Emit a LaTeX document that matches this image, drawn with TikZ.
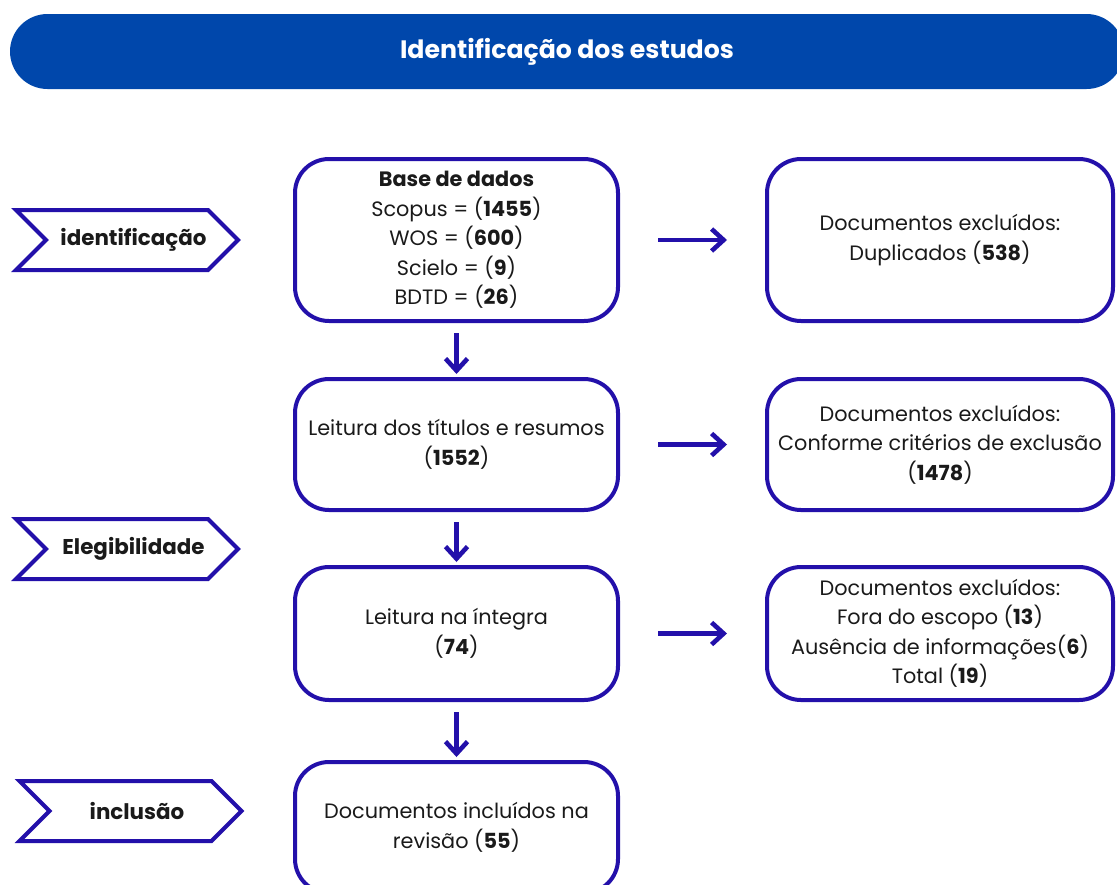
\documentclass[tikz,border=0pt]{standalone}
\usepackage{fontspec}
\setmainfont{Poppins}
\usetikzlibrary{shapes.symbols,arrows.meta,positioning}
\definecolor{headblue}{HTML}{0047AB}
\definecolor{flowblue}{HTML}{2310AA}
\definecolor{inkgray}{HTML}{1A1A1A}

\begin{document}
\begin{tikzpicture}[
    x=0.5pt, y=-0.5pt,
    every node/.style={font=\fontsize{10.4}{14.75}\selectfont, text=inkgray},
    % rounded boxes of the flow
    flowbox/.style={
        rectangle,
        draw=flowblue,
        line width=2pt,
        rounded corners=17pt,
        align=center,
        inner sep=2pt
    },
    % phase labels on the left
    phase/.style={
        signal,
        signal from=west,
        signal to=east,
        draw=flowblue,
        line width=2pt,
        inner xsep=0pt,
        minimum width=111pt,
        minimum height=30pt,
        execute at begin node=\hspace*{6.5pt},
        font=\fontsize{10.7}{12}\selectfont\bfseries
    },
    header/.style={
        rectangle,
        fill=headblue,
        rounded corners=18.75pt,
        minimum width=557pt,
        minimum height=37.5pt,
        text=white,
        font=\fontsize{12.6}{14}\selectfont\bfseries
    },
    flowarrow/.style={-{Straight Barb[length=6pt,width=11pt]}, draw=flowblue, line width=2.3pt}
]
\useasboundingbox (0,0) rectangle (1117,884);

% Title bar
\node[header] (head) at (567,51.5) {Identificação dos estudos};

% Phases
\node[phase] (ident) at (127,240) {identificação};
\node[phase] (eleg) at (127,549) {Elegibilidade};
\node[phase] (incl) at (130.5,811) {inclusão};

% Main column
\node[flowbox, minimum width=161.5pt, minimum height=81pt] (base) at (456.5,240) {%
    \textbf{Base de dados}\\
    Scopus = (\textbf{1455})\\
    WOS = (\textbf{600})\\
    Scielo = (\textbf{9})\\
    BDTD = (\textbf{26})};
\node[flowbox, minimum width=161.5pt, minimum height=65.5pt] (titles) at (456.5,444.5) {Leitura dos títulos e resumos\\(\textbf{1552})};
\node[flowbox, minimum width=161.5pt, minimum height=66.5pt] (full) at (456.5,633.5) {Leitura na íntegra\\(\textbf{74})};
\node[flowbox, minimum width=161.5pt, minimum height=65.5pt] (incbox) at (456.5,827.5) {Documentos incluídos na\\revisão (\textbf{55})};

% Exclusions
\node[flowbox, minimum width=173pt, minimum height=81pt, right=72.5pt of base] (dup) {Documentos excluídos:\\Duplicados (\textbf{538})};
\node[flowbox, minimum width=173pt, minimum height=65.5pt, right=72.5pt of titles] (crit) {Documentos excluídos:\\Conforme critérios de exclusão\\(\textbf{1478})};
\node[flowbox, minimum width=173pt, minimum height=66.5pt, right=72.5pt of full] (scope) {Documentos excluídos:\\Fora do escopo (\textbf{13})\\Ausência de informações(\textbf{6})\\Total (\textbf{19})};

% Arrows
\foreach \a/\b in {base/titles, titles/full, full/incbox}
    \draw[flowarrow, shorten <=5pt, shorten >=1.5pt] (\a) -- (\b);
\foreach \a/\b in {base/dup, titles/crit, full/scope}
    \draw[flowarrow, shorten <=19pt, shorten >=19pt] (\a) -- (\b);

\end{tikzpicture}
\end{document}
